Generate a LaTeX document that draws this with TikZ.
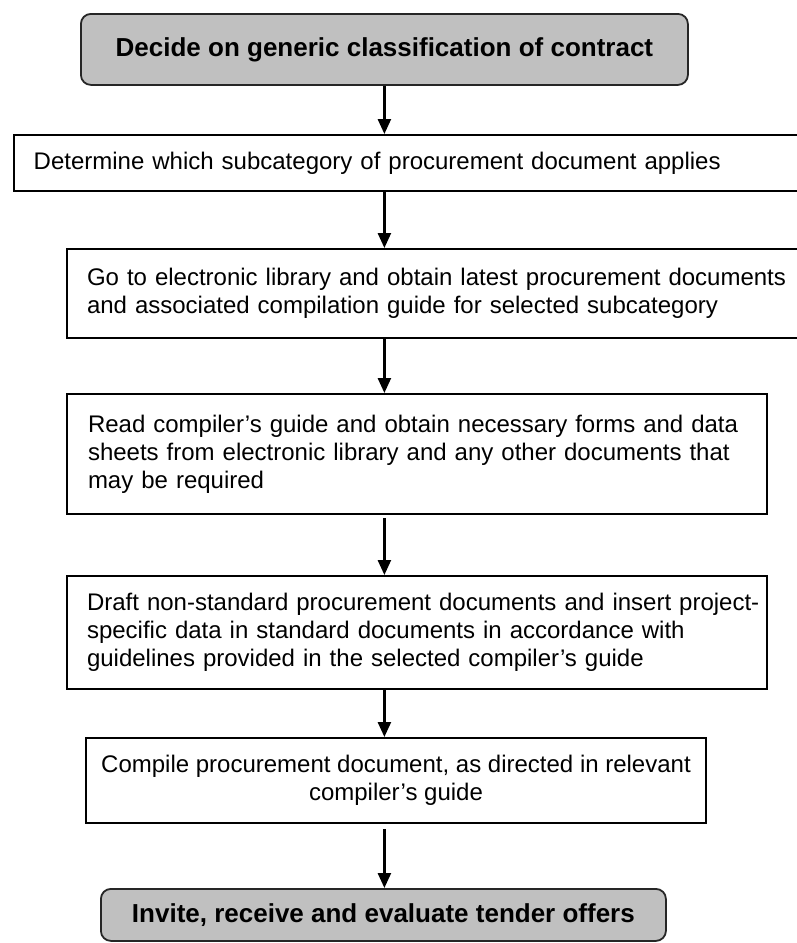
\documentclass[tikz,border=0pt]{standalone}
\usepackage{fontspec}
\setmainfont{Liberation Sans}
\usetikzlibrary{arrows.meta}
\definecolor{termgray}{HTML}{C0C0C0}
\begin{document}
\begin{tikzpicture}[x=1pt,y=-1pt,
  every node/.style={font=\fontsize{24}{28}\selectfont},
  plainbox/.style={draw=black, line width=2pt, rectangle, inner xsep=20pt, inner ysep=0pt, anchor=north west, fill=white, align=left},
  termbox/.style={draw=black!85, line width=1.8pt, rounded corners=10pt, fill=termgray, font=\fontsize{26}{30}\selectfont\bfseries, anchor=north west, inner sep=0pt},
  arr/.style={-{Triangle[length=15pt,width=13pt]}, line width=2.5pt}
]
\useasboundingbox[fill=white] (0,0) rectangle (796,943);

\node[termbox, minimum width=607pt, minimum height=71pt] (b1) at (80,13) {Decide on generic classification of contract};

\node[plainbox, text width=780pt, minimum height=56pt] (b2) at (12.7,134) {Determine which subcategory of procurement document applies};

\node[plainbox, text width=740pt, minimum height=89pt] (b3) at (66,248) {Go to electronic library and obtain latest procurement documents\\and associated compilation guide for selected subcategory};

\node[plainbox, inner xsep=21pt, text width=658pt, minimum height=120pt] (b4) at (66,393) {\makebox[658pt][s]{Read compiler’s guide and obtain necessary forms and data}\\\makebox[658pt][s]{sheets from electronic library and any other documents that}\\may be required};

\node[plainbox, text width=660pt, minimum height=113pt] (b5) at (66,575) {\mbox{Draft non-standard procurement documents and insert project-}\\specific data in standard documents in accordance with\\guidelines provided in the selected compiler’s guide};

\node[plainbox, inner xsep=0pt, align=center, minimum width=620pt, minimum height=85pt] (b6) at (85,737) {Compile procurement document, as directed in relevant\\compiler’s guide};

\node[termbox, minimum width=565pt, minimum height=52pt] (b7) at (100,888) {Invite, receive and evaluate tender offers};

\draw[arr] (b1.south) -- (b1.south |- b2.north);
\draw[arr] (b1.south |- b2.south) -- (b1.south |- b3.north);
\draw[arr] (b1.south |- b3.south) -- (b1.south |- b4.north);
\draw[arr, shorten <=3pt] (b1.south |- b4.south) -- (b1.south |- b5.north);
\draw[arr] (b1.south |- b5.south) -- (b1.south |- b6.north);
\draw[arr, shorten <=5pt] (b1.south |- b6.south) -- (b1.south |- b7.north);
\end{tikzpicture}
\end{document}
